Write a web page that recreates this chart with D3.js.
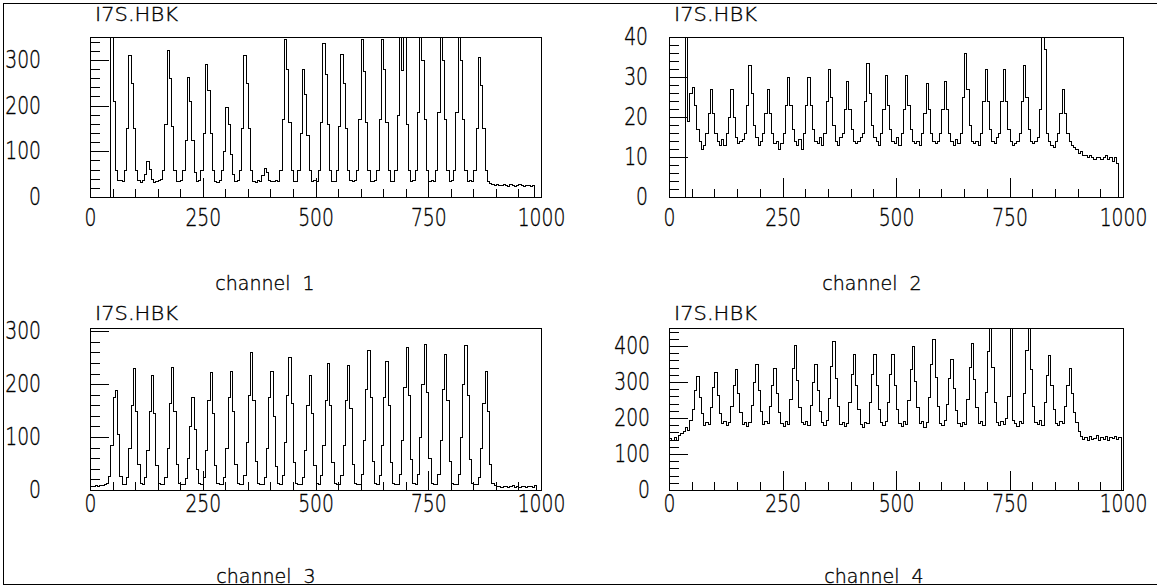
<!DOCTYPE html>
<html>
<head>
<meta charset="utf-8">
<script src="https://cdn.jsdelivr.net/npm/d3@7"></script>
<style>
body{margin:0;background:#fff;}
svg{display:block;}
</style>
</head>
<body>
<script>
// histograms: 5-channel bins, channels 0..1000
var binw=5;
var ch1=[
 0,0,0,0,0,0,0,0,0,400,
 210,60,37,38,36,60,150,310,250,150,
 60,37,33,38,50,79,62,40,33,36,
 38,40,60,160,321,260,155,60,36,34,
 38,60,125,262,210,125,55,35,37,60,
 140,291,235,140,58,36,33,38,60,100,
 196,160,95,50,36,38,60,150,310,250,
 150,60,36,33,37,35,48,63,55,38,
 34,36,38,36,60,170,345,280,165,60,
 36,34,60,140,280,225,135,58,35,38,
 36,60,165,336,270,160,60,36,34,60,
 155,312,250,150,58,37,35,38,60,170,
 345,275,165,60,36,34,37,60,170,345,
 280,165,60,36,35,60,180,400,277,400,
 160,60,36,38,60,185,400,300,170,60,
 35,37,34,60,185,400,300,170,60,36,
 38,60,185,400,300,170,60,35,37,36,
 60,150,306,245,150,60,35,30,28,27,
 28,26,27,29,26,25,28,26,25,27,
 29,26,25,27,26,25,27,0,0,0];
var ch2=[
 0,0,0,0,0,0,0,45,19,26,
 27.5,23,17,14,12,13,16,21,27,21,
 16,14,13,14.5,13,16,20,27,20,15,
 13.5,14,14.5,16,23,33,26,18,15,13,
 14,16,21,27,21,16,13.5,14,12,13.5,
 16,23,30,23,17,14,13,14.5,12,16,
 23,30,23,17,14,13.5,15,13,16,24,
 32,25,18,14,13,15,16,22,29,22,
 17,14,13.5,14,15,16,24,33.5,26,18,
 15,14,13,16,22,30.5,23,17,14,13.5,
 15,13,16,22,30.5,23,17,14,13.5,14,
 13,16,21,28.5,22,16,14,13.5,14,16,
 22,29,22,16,14,13,14.5,13.5,16,25,
 36,27,18,14,13.5,14,13,16,24,32,
 24,17,14,13.5,15,16,24,32,24,17,
 14,13,13.5,14,16,24,33,25,17,14,
 13.5,14,15,22,45,37,16,14,13,12.5,
 14,16,21,27,21,16,14,13,12.5,12,
 11,11.5,10.5,10.5,10,10.5,10,9.5,10,10,
 9.5,10,10.5,9.5,10,9,10,8.5,0,0];
var ch3=[
 8,8,9,8,10,9,12,14,26,85,
 176,188,106,26,11,12,25,80,160,230,
 150,50,14,11,25,75,150,218,145,48,
 14,11,12,25,80,165,232,150,50,14,
 11,12,22,60,120,176,115,40,13,11,
 25,75,170,222,145,48,14,11,12,25,
 80,175,225,150,50,14,11,12,28,90,
 180,260,170,55,14,11,12,25,80,176,
 225,140,45,13,11,28,90,180,252,165,
 52,14,11,12,25,75,160,218,145,48,
 14,11,28,85,170,240,160,52,14,11,
 12,28,85,170,236,155,50,14,11,12,
 30,95,190,265,175,55,14,11,28,85,
 175,243,160,52,14,11,12,30,95,195,
 270,180,58,14,11,30,100,200,276,185,
 60,14,11,12,30,95,190,257,170,55,
 14,11,12,30,100,200,273,180,58,14,
 11,12,25,80,165,225,150,50,14,9,
 8,7,6,8,7,6,7,9,6,7,
 6,8,7,6,7,8,6,9,0,0];
var ch4=[
 145,138,148,140,152,158,165,175,168,195,
 226,279,318,259,213,180,190,182,230,286,
 329,265,215,185,192,180,188,232,291,336,
 269,217,183,190,178,188,236,301,350,277,
 220,182,192,185,232,293,338,270,217,186,
 178,192,183,252,338,402,305,230,190,184,
 193,181,236,301,350,277,220,188,180,194,
 255,345,413,311,232,182,190,178,186,244,
 321,378,292,225,183,176,190,185,244,321,
 378,292,225,188,180,192,244,321,378,292,
 225,186,178,193,182,251,336,400,304,230,
 185,192,176,188,257,350,420,315,234,187,
 180,194,240,311,364,284,222,185,178,190,
 183,253,341,407,308,231,186,192,180,272,
 385,480,343,244,188,181,193,184,200,262,
 480,195,186,178,192,186,270,390,480,336,
 234,190,182,194,180,244,319,376,291,225,
 186,180,192,185,232,293,338,270,217,190,
 165,150,142,148,140,150,143,145,152,140,
 146,142,150,140,148,145,150,142,148,0];
var xmaj=[0,250,500,750,1000]; // x tick labels
var ymaj1=[0,100,200,300];
var ymaj2=[0,10,20,30,40];
var ymaj3=[0,100,200,300];
var ymaj4=[0,100,200,300,400];
var htitle='I7S.HBK';
var xtitle=['channel  1','channel  2','channel  3','channel  4'];
// layout
var wid=1157, hgh=586;
var fnt='"DejaVu Sans",sans-serif';
var lblsz=24, lblsx=0.78; // tick label size and horizontal squeeze
var panels=[
 {x0:90, x1:541, y0:37, y1:197, ymax:350, ystep:20, ymaj:ymaj1, data:ch1, lx:265, ly:290, ty:21,  xpad:12, ypad:49},
 {x0:669,x1:1123,y0:37, y1:197, ymax:40,  ystep:2,  ymaj:ymaj2, data:ch2, lx:872, ly:290, ty:21,  xpad:12, ypad:21},
 {x0:90, x1:541, y0:328,y1:490, ymax:306, ystep:20, ymaj:ymaj3, data:ch3, lx:266, ly:583, ty:320, xpad:5,  ypad:49},
 {x0:669,x1:1123,y0:328,y1:490, ymax:450, ystep:20, ymaj:ymaj4, data:ch4, lx:874, ly:583, ty:320, xpad:5,  ypad:19}
];
var svg=d3.select('body').append('svg').attr('width',wid).attr('height',hgh);
svg.append('rect').attr('width',wid).attr('height',hgh).attr('fill','#fff');
// outer frame (top, left, bottom)
svg.append('path').attr('d','M1157,3.5H3.5V584.5H1157')
  .attr('fill','none').attr('stroke','#000').attr('shape-rendering','crispEdges');

function thin(t) { // light stroke-font look
 t.attr('font-family',fnt).attr('font-weight',200).attr('fill','#000')
  .attr('stroke','#000').attr('stroke-width',0.35);
}
function styleaxis(g) {
 g.select('.domain').remove();
 g.selectAll('line').attr('stroke','#000').attr('shape-rendering','crispEdges');
 g.selectAll('text').attr('font-size',lblsz).call(thin)
  .attr('x',function(){return (+this.getAttribute('x')||0)/lblsx;})
  .attr('transform','scale('+lblsx+',1)');
}
function drawpanel(p,k) {
 var x=d3.scaleLinear().domain([0,1000]).range([p.x0,p.x1]);
 var y=d3.scaleLinear().domain([0,p.ymax]).range([p.y1,p.y0]).clamp(true);
 var g=svg.append('g');
 // minor + major ticks, drawn inside the frame
 g.append('g').attr('transform','translate(0,'+p.y1+')')
   .call(d3.axisBottom(x).tickValues(d3.range(0,1001,50)).tickSize(-8).tickFormat(''))
   .call(styleaxis);
 g.append('g').attr('transform','translate(0,'+p.y1+')')
   .call(d3.axisBottom(x).tickValues(xmaj).tickSize(-19).tickPadding(p.xpad).tickFormat(d3.format('d')))
   .call(styleaxis);
 g.append('g').attr('transform','translate('+p.x0+',0)')
   .call(d3.axisLeft(y).tickValues(d3.range(0,p.ymax,p.ystep)).tickSize(-10).tickFormat(''))
   .call(styleaxis);
 g.append('g').attr('transform','translate('+p.x0+',0)')
   .call(d3.axisLeft(y).tickValues(p.ymaj).tickSize(-19).tickPadding(p.ypad).tickFormat(d3.format('d')))
   .call(styleaxis);
 // frame
 g.append('rect').attr('x',p.x0+0.5).attr('y',p.y0+0.5)
   .attr('width',p.x1-p.x0).attr('height',p.y1-p.y0)
   .attr('fill','none').attr('stroke','#000').attr('shape-rendering','crispEdges');
 // histogram
 var pts=p.data.map(function(v,i){return [i*binw,v];});
 pts.push([1000,p.data[p.data.length-1]]);
 var line=d3.line()
   .x(function(d){return Math.round(x(d[0]))+0.5;})
   .y(function(d){return Math.round(y(d[1]))+0.5;})
   .curve(d3.curveStepAfter);
 g.append('path').attr('d',line(pts)).attr('fill','none')
   .attr('stroke','#000').attr('stroke-width',1).attr('shape-rendering','crispEdges');
 // titles
 g.append('text').attr('x',p.x0+5).attr('y',p.ty).text(htitle)
   .attr('font-size',20).attr('textLength',83).attr('lengthAdjust','spacingAndGlyphs').call(thin);
 g.append('text').attr('x',p.lx).attr('y',p.ly).attr('text-anchor','middle')
   .style('white-space','pre').text(xtitle[k])
   .attr('font-size',19).call(thin);
}
panels.forEach(drawpanel);
</script>
</body>
</html>
